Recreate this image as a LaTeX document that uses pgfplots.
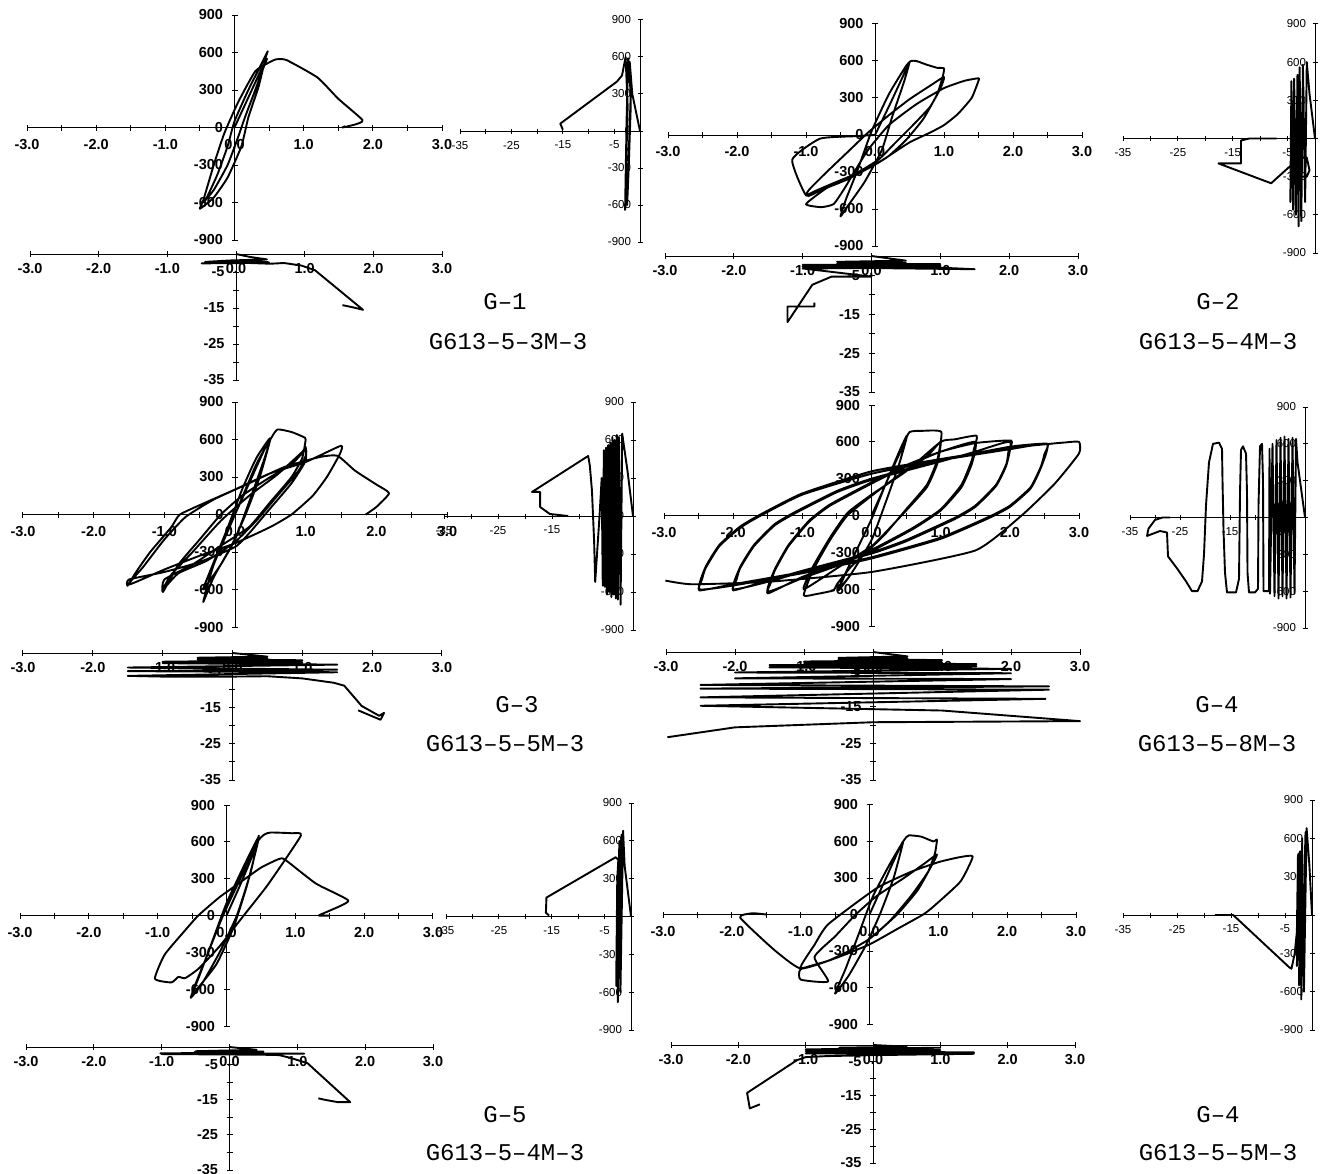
\documentclass[border=0pt]{standalone}
\usepackage{pgfplots}
\pgfplotsset{compat=1.18}
\usepackage{fontspec}
\setmainfont{Liberation Sans}
\newfontfamily\labfont{Liberation Mono}

% 1 px of the reference = 1pt here
\pgfplotsset{
  hbase/.style={scale only axis, anchor=south west, axis lines=middle,
    axis line style={-, line width=1pt}, tick align=center,
    major tick length=6pt, minor tick length=6pt,
    tick style={line width=1pt, black},
    hide obscured x ticks=false, hide obscured y ticks=false, clip=false,
    cycle list={{black, no marks}},
    every axis plot post/.append style={line width=1.9pt, line join=round}},
  mainax/.style={hbase, xmin=-3, xmax=3, ymin=-900, ymax=900,
    every axis plot post/.append style={smooth, tension=0.3},
    xtick={-3,-2,-1,0,1,2,3}, xticklabels={-3.0,-2.0,-1.0,0.0,1.0,2.0,3.0},
    minor xtick={-2.5,-1.5,-0.5,0.5,1.5,2.5},
    ytick={-900,-600,-300,0,300,600,900}, yticklabels={-900,-600,-300,0,300,600,900},
    ticklabel style={font=\fontsize{14.5}{14.5}\selectfont\bfseries},
    xticklabel style={yshift=-5pt}, yticklabel style={xshift=-5pt}},
  botax/.style={hbase, xmin=-3, xmax=3, ymin=-35, ymax=0,
    xtick={-3,-2,-1,0,1,2,3}, xticklabels={-3.0,-2.0,-1.0,0.0,1.0,2.0,3.0},
    ytick={-5,-15,-25,-35}, yticklabels={-5,-15,-25,-35}, minor ytick={-10,-20,-30},
    ticklabel style={font=\fontsize{14.5}{14.5}\selectfont\bfseries},
    xticklabel style={yshift=-3pt}, yticklabel style={xshift=-5pt}},
  rightax/.style={hbase, xmin=-35, xmax=0, ymin=-900, ymax=900,
    major tick length=5pt, minor tick length=5pt,
    xtick={-35,-25,-15,-5}, xticklabels={-35,-25,-15,-5}, minor xtick={-30,-20,-10},
    ytick={-900,-600,-300,0,300,600,900}, yticklabels={-900,-600,-300,0,300,600,900},
    ticklabel style={font=\fontsize{11.5}{11.5}\selectfont},
    xticklabel style={yshift=-4pt}, yticklabel style={xshift=-3pt}},
}
\tikzset{lab/.style={font=\labfont\fontsize{24}{24}\selectfont}}

\begin{document}
\begin{tikzpicture}
\useasboundingbox (0,0) rectangle (1328pt,-1173pt);

% ---------------- G-1 ----------------
\begin{axis}[mainax, at={(27pt,-240pt)}, width=415pt, height=225pt]
\addplot table {
0 0
0.1 120
0.25 300
0.4 480
0.47 550
0.42 480
0.3 300
0.15 80
0.05 -80
-0.1 -300
-0.3 -500
-0.45 -600
-0.4 -560
-0.25 -380
-0.1 -150
0.0 50
0.2 300
0.4 520
0.48 610
0.45 560
0.35 330
0.2 80
0.1 -150
-0.1 -400
-0.3 -560
-0.5 -650
-0.45 -580
-0.3 -300
-0.15 -50
0.05 200
0.3 450
0.5 520
0.6 545
0.75 540
1.2 400
1.5 230
1.85 60
1.75 25
1.56 0
1.6 10
};
\end{axis}
\begin{axis}[rightax, at={(460pt,-242pt)}, width=180pt, height=222pt]
\addplot table {
0 0
-1.5 300
-2.0 560
-1.8 200
-2.2 -300
-2.5 -600
-2.2 -200
-1.8 300
-2.3 590
-2.6 100
-2.9 -640
-2.7 -300
-2.4 200
-2.8 600
-3.5 450
-4.5 400
-15.5 60
-15 10
};
\end{axis}
\begin{axis}[botax, at={(30pt,-380pt)}, width=412pt, height=126pt]
\addplot table {
0 0
0.2 -0.8
0.45 -1.5
-0.1 -1.8
-0.45 -2.2
0.3 -2.0
0.48 -2.3
-0.5 -2.6
0.2 -2.5
0.5 -2.7
0.7 -2.5
0.95 -3.2
1.15 -4.5
1.85 -15.5
1.7 -14.8
1.55 -14.2
};
\end{axis}
\node[lab] at (505pt,-302pt) {G–1};
\node[lab] at (508pt,-342pt) {G613–5–3M–3};

% ---------------- G-2 ----------------
\begin{axis}[mainax, at={(668pt,-246pt)}, width=414pt, height=222pt]
\addplot table {
0 0
0.2 230
0.4 470
0.5 590
0.42 430
0.25 150
0.1 -120
-0.15 -380
-0.4 -580
-0.5 -660
-0.42 -520
-0.25 -280
-0.05 30
0.2 330
0.45 560
0.52 600
0.6 600
0.75 570
0.9 545
1.0 540
0.98 470
0.9 330
0.7 130
0.45 -40
0.2 -170
0 -240
-0.3 -320
-0.6 -390
-0.85 -450
-1.0 -490
-0.95 -440
-0.7 -300
-0.4 -140
-0.1 20
0.2 160
0.5 290
0.8 400
1.0 470
0.95 380
0.8 230
0.55 80
0.3 -60
0.05 -200
-0.3 -320
-0.7 -430
-1.0 -560
-0.78 -585
-0.6 -560
-0.45 -440
-0.3 -300
-0.1 -120
0.2 80
0.6 250
1.0 380
1.3 440
1.5 460
1.5 440
1.4 300
1.2 170
1.0 80
0.8 20
0.5 -60
0.2 -170
0 -240
-0.4 -360
-0.8 -450
-1.0 -490
-1.2 -200
-0.8 -30
-0.3 -10
0 0
};
\end{axis}
\begin{axis}[rightax, at={(1123pt,-253pt)}, width=192pt, height=229pt]
\addplot table {
0 0
-1.0 350
-1.5 600
-1.8 -500
-2.2 580
-2.5 -650
-2.8 560
-3.0 -690
-3.2 500
-3.5 -600
-3.8 470
-4.0 -560
-4.3 450
-4.5 -500
-4.2 300
-3.6 -300
-1.5 -300
-1.0 -250
-1.5 -150
-4.3 -150
-4.0 -196
-8 -352
-17.6 -196
-13.5 -196
-13.5 -16
-12 0
-7 0
};
\end{axis}
\begin{axis}[botax, at={(665pt,-392pt)}, width=413pt, height=136pt]
\addplot table {
0 0
0.5 -1.2
-0.5 -1.5
0.5 -1.8
-0.5 -2.0
1.0 -2.1
-1.0 -2.3
1.0 -2.5
-1.0 -2.7
0.5 -2.6
1.5 -3.4
-0.5 -3.0
1.0 -3.0
-1.0 -3.2
0 -5.3
-0.58 -5.3
-0.86 -7.4
-1.22 -17
-1.22 -13
-0.83 -13
-0.83 -12
};
\end{axis}
\node[lab] at (1218pt,-302pt) {G–2};
\node[lab] at (1218pt,-342pt) {G613–5–4M–3};

% ---------------- G-3 ----------------
\begin{axis}[mainax, at={(23pt,-627pt)}, width=424pt, height=225pt]
\addplot table {
0 0
0.2 250
0.4 500
0.5 600
0.4 420
0.2 100
0 -200
-0.2 -400
-0.45 -600
-0.35 -450
-0.1 -100
0.1 200
0.3 450
0.5 610
0.35 300
0.15 0
-0.05 -250
-0.3 -500
-0.45 -700
-0.3 -400
0 0
0.3 400
0.5 600
0.6 680
0.8 660
0.97 620
1.0 600
0.95 450
0.8 300
0.5 100
0.2 -100
-0.2 -250
-0.6 -400
-1.0 -520
-1.02 -620
-0.8 -400
-0.5 -200
-0.2 0
0.1 150
0.5 300
0.8 400
1.0 520
1.0 470
0.9 350
0.6 150
0.3 -50
0 -220
-0.4 -370
-0.8 -470
-1.02 -600
-0.9 -480
-0.6 -300
-0.2 -50
0.2 150
0.6 320
0.95 500
1.0 540
1.0 430
0.8 250
0.5 50
0.2 -150
0 -260
-0.5 -380
-1.0 -460
-1.5 -520
-1.52 -570
-1.4 -460
-1.2 -300
-0.9 -100
-0.78 0
-0.4 100
0 200
0.5 330
1.0 420
1.5 550
1.48 480
1.3 300
1.1 150
0.8 0
0.5 -100
0 -230
-0.5 -330
-1.0 -440
-1.5 -560
-1.3 -420
-1.0 -200
-0.7 -20
-0.3 120
0.2 250
0.7 380
1.2 460
1.45 470
1.7 350
2.0 240
2.18 170
2.0 60
1.85 0
};
\end{axis}
\begin{axis}[rightax, at={(444pt,-630pt)}, width=189pt, height=228pt]
\addplot table {
0 0
-1.0 350
-2.0 650
-2.3 -700
-2.6 620
-2.8 -660
-3.0 640
-3.2 -650
-3.4 600
-3.6 -620
-3.8 620
-4.0 -640
-4.2 580
-4.4 -600
-4.6 560
-4.8 -620
-5.0 540
-5.2 -560
-5.4 520
-5.6 -550
-5.8 300
-6.2 0
-7.0 -520
-7.2 -200
-7.6 200
-8.0 400
-8.3 474
-18.7 190
-17.2 190
-17.2 71
-15.4 16
-12 0
};
\end{axis}
\begin{axis}[botax, at={(23pt,-780pt)}, width=419pt, height=127pt]
\addplot table {
0 0
0.5 -1.0
-0.5 -1.3
0.5 -1.5
-0.5 -1.7
1.0 -2.0
-1.0 -2.4
1.0 -2.6
-1.0 -2.8
1.5 -3.2
-1.5 -4.0
1.5 -4.6
-1.5 -5.0
1.5 -5.3
-1.5 -6.3
-1.0 -6.5
0 -6.5
0.5 -6.4
1.0 -7.0
1.45 -8.2
1.6 -9.0
1.85 -14.6
2.1 -17.3
2.17 -16.5
2.12 -18.4
1.8 -15.8
};
\end{axis}
\node[lab] at (517pt,-705pt) {G–3};
\node[lab] at (505pt,-744pt) {G613–5–5M–3};

% ---------------- G-4 ----------------
\begin{axis}[mainax, at={(664pt,-626pt)}, width=415pt, height=221pt]
\addplot table {
0 0
0.2 250
0.4 520
0.51 650
0.4 420
0.2 100
0 -200
-0.3 -480
-0.48 -610
-0.3 -380
0 -30
0.2 250
0.4 520
0.51 640
0.4 420
0.2 100
0 -200
-0.3 -480
-0.48 -600
-0.3 -380
0 -30
0.2 250
0.45 560
0.55 680
0.75 690
1.01 680
0.95 450
0.8 250
0.5 50
0.2 -150
0 -260
-0.3 -420
-0.5 -560
-0.55 -610
-0.8 -640
-0.98 -650
-0.85 -450
-0.6 -200
-0.35 0
0 160
0.4 330
0.8 480
1.0 600
0.95 420
0.8 230
0.5 40
0.2 -140
0 -250
-0.5 -430
-0.98 -600
-0.85 -420
-0.6 -180
-0.35 20
0 170
0.5 360
1.0 600
1.2 620
1.52 650
1.48 540
1.45 450
1.3 250
1.0 50
0.6 -100
0 -280
-0.5 -400
-1.0 -500
-1.5 -635
-1.45 -540
-1.4 -450
-1.2 -250
-0.9 -50
-0.6 80
0 260
0.5 400
1.0 520
1.5 600
1.45 420
1.3 230
1.0 40
0.6 -110
0 -290
-0.5 -410
-1.0 -510
-1.5 -620
-1.4 -440
-1.2 -240
-0.9 -40
-0.6 90
0 270
0.5 410
1.0 520
1.5 590
2.02 610
1.98 520
1.95 420
1.8 250
1.5 80
1.2 -20
0.5 -200
0 -300
-1.0 -450
-1.5 -530
-2.0 -610
-1.95 -520
-1.9 -430
-1.7 -250
-1.4 -80
-1.1 20
-0.5 190
0 290
1.0 440
1.5 520
2.0 600
1.95 410
1.8 240
1.5 70
1.2 -30
0.5 -210
0 -310
-1.0 -460
-1.5 -540
-2.0 -600
-1.9 -420
-1.7 -240
-1.4 -70
-1.1 30
-0.5 200
0 300
1.0 450
2.0 560
2.54 585
2.5 500
2.45 400
2.3 230
2.0 80
1.7 -10
1.0 -180
0 -340
-1.0 -460
-2.0 -560
-2.49 -610
-2.45 -520
-2.4 -430
-2.2 -250
-1.9 -100
-1.6 0
-1.0 170
0 340
1.0 450
2.0 540
2.54 580
2.45 390
2.3 220
2.0 70
1.7 -20
1.0 -190
0 -350
-1.0 -470
-2.0 -570
-2.49 -600
-2.4 -420
-2.2 -240
-1.9 -90
-1.6 10
-1.0 180
0 360
1.0 460
2.0 550
2.6 585
2.8 595
3.0 600
3.0 505
2.65 260
2.17 0
1.5 -285
0 -460
-1.5 -540
-2.6 -560
-2.98 -530
};
\end{axis}
\begin{axis}[rightax, at={(1130pt,-628pt)}, width=175pt, height=221pt]
\addplot table {
0 0
-1.5 450
-1.8 640
-2.1 -620
-2.5 650
-2.9 -650
-3.3 640
-3.7 -660
-4.1 660
-4.5 -640
-4.9 650
-5.3 -660
-5.7 630
-6.1 -640
-6.5 600
-7.0 -620
-7.1 560
-7.2 -600
-8.3 -600
-8.4 300
-8.6 600
-9.0 580
-9.3 100
-9.4 -580
-10.0 -610
-11.2 -610
-11.5 -450
-11.6 200
-11.8 520
-12.4 580
-12.8 550
-13.0 200
-13.2 -500
-13.8 -610
-15.6 -610
-16.0 -450
-16.3 -100
-16.5 300
-16.6 560
-17.2 610
-18.4 600
-19.2 450
-19.8 100
-20.2 -300
-20.6 -520
-21.5 -600
-22.6 -600
-23.8 -520
-25.5 -420
-27.4 -317
-27.6 -122
-29.0 -110
-31.6 -150
-31.3 -90
-30.0 -20
-28.5 0
-27 0
};
\end{axis}
\begin{axis}[botax, at={(666pt,-780pt)}, width=414pt, height=128pt]
\addplot table {
0 0
0.5 -1.2
-0.5 -1.6
0.5 -1.8
-0.5 -2.0
1.0 -2.2
-1.0 -2.6
1.0 -2.8
-1.0 -3.0
1.5 -3.3
-1.5 -3.6
1.5 -3.9
-1.5 -4.2
2.0 -4.6
-2.0 -5.6
2.0 -5.8
-2.0 -7.2
2.0 -7.4
-2.5 -9.0
2.55 -9.4
-2.5 -10.0
2.55 -10.3
-2.5 -12.4
2.5 -12.8
-2.5 -14.7
1.0 -16.0
3.0 -18.9
0 -19.2
-2.0 -20.6
-2.98 -23.3
};
\end{axis}
\node[lab] at (1217pt,-705pt) {G–4};
\node[lab] at (1217pt,-744pt) {G613–5–8M–3};

% ---------------- G-5 ----------------
\begin{axis}[mainax, at={(20pt,-1026pt)}, width=413pt, height=221pt]
\addplot table {
0 0
0.2 250
0.4 520
0.47 650
0.35 350
0.15 0
-0.1 -300
-0.35 -550
-0.52 -670
-0.4 -500
-0.2 -200
0 100
0.25 400
0.47 640
0.3 250
0.1 -100
-0.15 -400
-0.5 -640
-0.3 -350
-0.05 0
0.2 300
0.45 600
0.55 660
0.64 676
0.95 670
1.08 650
0.6 250
0.25 0
-0.1 -250
-0.4 -430
-0.6 -510
-0.7 -500
-0.8 -545
-1.04 -515
-0.9 -320
-0.6 -120
-0.41 0
-0.1 150
0.2 270
0.5 390
0.76 460
0.85 455
1.3 260
1.77 122
1.5 40
1.34 0
1.5 0
};
\end{axis}
\begin{axis}[rightax, at={(446pt,-1030pt)}, width=185pt, height=227pt]
\addplot table {
0 0
-1.2 400
-1.5 680
-2.0 -600
-1.8 650
-2.5 -680
-2.2 600
-2.8 -550
-2.6 300
-2.4 450
-2.9 470
-16 150
-16.1 30
-15.5 8
};
\end{axis}
\begin{axis}[botax, at={(26pt,-1170pt)}, width=407pt, height=123pt]
\addplot table {
0 0
0.4 -0.8
-0.5 -1.2
0.5 -1.3
-0.52 -1.5
0.5 -1.6
-1.02 -1.8
1.1 -1.9
-1.0 -2.0
0.5 -2.2
0.73 -2.3
0.9 -3.1
1.15 -4.6
1.78 -15.7
1.6 -15.7
1.4 -15
1.31 -14.6
};
\end{axis}
\node[lab] at (505pt,-1115pt) {G–5};
\node[lab] at (505pt,-1153pt) {G613–5–4M–3};

% ---------------- G-4 (2nd) ----------------
\begin{axis}[mainax, at={(663pt,-1024pt)}, width=413pt, height=219pt]
\addplot table {
0 0
0.2 250
0.4 500
0.49 600
0.35 300
0.15 0
-0.05 -250
-0.3 -500
-0.5 -650
-0.35 -450
-0.15 -150
0.05 150
0.3 420
0.5 610
0.57 650
0.75 640
0.93 600
0.98 615
0.95 500
0.85 350
0.6 150
0.3 -50
0 -200
-0.3 -300
-0.6 -380
-1.0 -450
-1.0 -535
-0.6 -550
-0.8 -350
-0.5 -180
-0.2 0
0.1 150
0.5 300
0.8 420
0.98 493
0.9 400
0.7 200
0.4 0
0 -200
-0.5 -360
-1.0 -440
-0.8 -250
-0.6 -80
0.1 215
0.6 350
1.0 430
1.3 470
1.5 477
1.32 270
0.93 66
0.78 0
0.4 -120
0 -246
-0.5 -360
-1.0 -444
-1.39 -288
-1.88 -25
-1.7 10
-1.5 0
};
\end{axis}
\begin{axis}[rightax, at={(1123pt,-1030pt)}, width=189pt, height=230pt]
\addplot table {
0 0
-0.5 400
-1.0 680
-1.5 -600
-1.2 650
-2.0 -660
-1.8 600
-2.4 -550
-2.2 500
-2.8 -400
-2.5 480
-2.0 480
-2.6 470
-2.8 -130
-3.2 -300
-3.8 -420
-4.2 -410
-14.6 0
-18 0
};
\end{axis}
\begin{axis}[botax, at={(671pt,-1163pt)}, width=404pt, height=118pt]
\addplot table {
0 0
0.5 -0.5
-0.5 -0.8
0.5 -1.0
-0.5 -1.2
1.0 -0.8
-1.0 -1.3
1.0 -1.5
-1.0 -1.8
1.5 -2.2
-1.0 -2.5
1.5 -2.6
0 -3.0
-0.7 -3.3
-1.0 -3.6
-1.13 -4.5
-1.87 -14.2
-1.83 -18.8
-1.68 -17.6
};
\end{axis}
\node[lab] at (1218pt,-1115pt) {G–4};
\node[lab] at (1218pt,-1153pt) {G613–5–5M–3};
\end{tikzpicture}
\end{document}
